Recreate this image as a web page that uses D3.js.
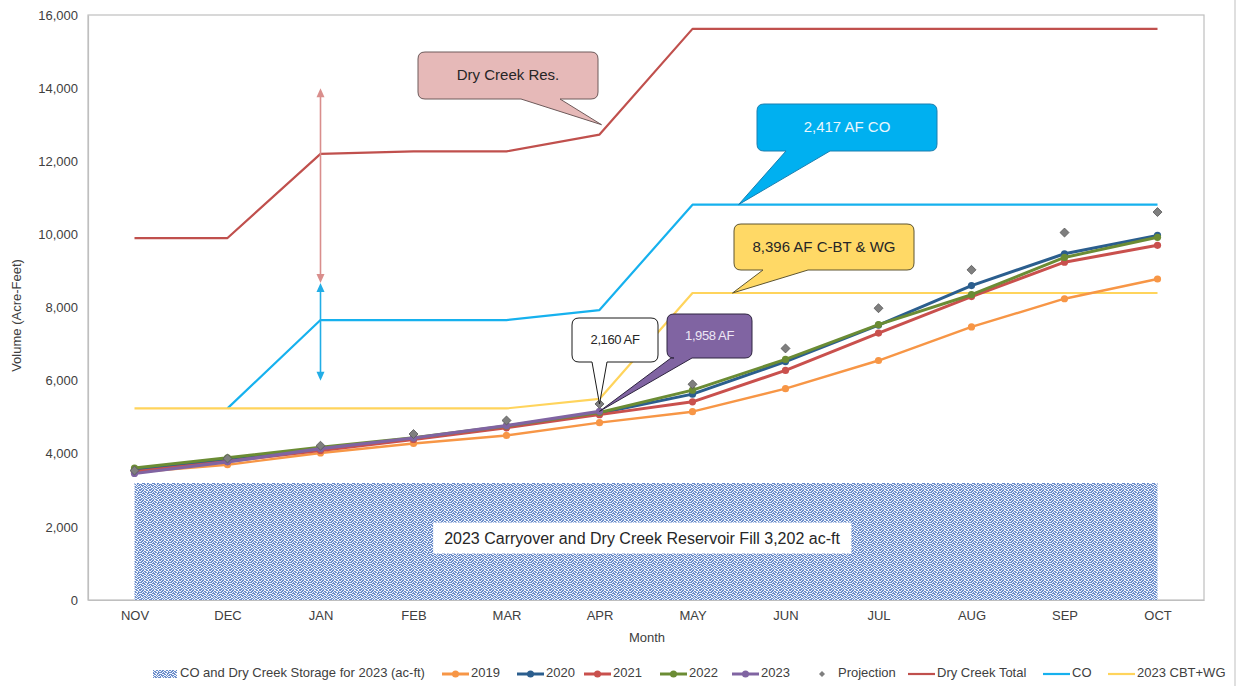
<!DOCTYPE html>
<html>
<head>
<meta charset="utf-8">
<script src="https://cdn.jsdelivr.net/npm/d3@7"></script>
<style>
  html, body { margin: 0; padding: 0; background: #fff; }
  svg { display: block; font-family: "Liberation Sans", Arial, sans-serif; }
</style>
</head>
<body>
<svg id="chart" width="1238" height="686"></svg>
<script>
// ---- data -------------------------------------------------------------
const months = ["NOV","DEC","JAN","FEB","MAR","APR","MAY","JUN","JUL","AUG","SEP","OCT"];
const yTicks = [0, 2000, 4000, 6000, 8000, 10000, 12000, 14000, 16000];

const storage2023 = [3202,3202,3202,3202,3202,3202,3202,3202,3202,3202,3202,3202];
const y2019 = [3490,3700,4020,4280,4500,4850,5150,5780,6550,7470,8240,8780];
const y2020 = [3560,3830,4130,4410,4730,5110,5630,6520,7520,8600,9470,9970];
const y2021 = [3510,3790,4090,4390,4710,5070,5420,6280,7300,8300,9240,9700];
const y2022 = [3610,3890,4180,4440,4760,5130,5740,6580,7530,8350,9370,9920];
const y2023 = [3460,3780,4140,4430,4770,5160,null,null,null,null,null,null];
const projection = [3540,3870,4220,4540,4910,5362,5900,6880,7980,9030,10050,10610];
const dryCreekTotal = [9900,9900,12200,12270,12270,12730,15620,15620,15620,15620,15620,15620];
const coTotal = [null,5240,7657,7657,7657,7930,10813,10813,10813,10813,10813,10813];
const cbtWg = [5240,5240,5240,5240,5240,5500,8396,8396,8396,8396,8396,8396];

// annotation values
const storageLabel = "2023 Carryover and Dry Creek Reservoir Fill 3,202 ac-ft";
const dryCreekArrow = [14000, 8670];   // JAN span, Dry Creek reservoir
const coArrow = [8670, 6000];          // JAN span, CO

// ---- layout -----------------------------------------------------------
const svg = d3.select("#chart");
const plot = { left: 88, right: 1204, top: 15, bottom: 600 };

const x = d3.scalePoint().domain(months).range([plot.left, plot.right]).padding(0.5);
const y = d3.scaleLinear().domain([0, 16000]).range([plot.bottom, plot.top]);

const C = {
  y2019: "#F79646", y2020: "#2B5E8E", y2021: "#C9504D", y2022: "#6B8C34",
  y2023: "#8064A2", proj: "#7F7F7F", dry: "#C0504D", co: "#16B1EE", cbt: "#FFD45C",
  text: "#404040", axis: "#BFBFBF"
};

// confetti fill used for the storage block
const defs = svg.append("defs");
const pat = defs.append("pattern").attr("id", "dots")
  .attr("patternUnits", "userSpaceOnUse").attr("width", 10).attr("height", 10);
pat.append("rect").attr("width", 10).attr("height", 10).attr("fill", "#F1F5FB");
const bitmap = [
  "1011001101",
  "0110110010",
  "1101011011",
  "0011100110",
  "1100110101",
  "0111001011",
  "1010110100",
  "1001011011",
  "0110100110",
  "1101011001"
];
bitmap.forEach((row, r) => row.split("").forEach((c, k) => {
  if (c === "1") pat.append("rect").attr("x", k).attr("y", r).attr("width", 1).attr("height", 1)
    .attr("fill", "#6B8DCB").attr("shape-rendering", "crispEdges");
}));

// outer frame line on the right
svg.append("line").attr("x1", 1235).attr("x2", 1235).attr("y1", 0).attr("y2", 686)
  .attr("stroke", "#D4D4D4").attr("stroke-width", 1.5);

// plot frame
svg.append("rect").attr("x", plot.left).attr("y", plot.top)
  .attr("width", plot.right - plot.left).attr("height", plot.bottom - plot.top)
  .attr("fill", "none").attr("stroke", C.axis).attr("stroke-width", 1.2);

// storage block
svg.append("path").datum(storage2023)
  .attr("d", d3.area().x((d, i) => x(months[i])).y0(y(0)).y1(d => y(d)))
  .attr("fill", "url(#dots)");

// storage label box
const sl = svg.append("g");
const slText = sl.append("text").attr("x", (x("MAR") + x("JUN")) / 2 - 4).attr("y", y(1660))
  .attr("text-anchor", "middle").attr("dominant-baseline", "middle")
  .attr("font-size", 16).attr("fill", "#262626").text(storageLabel);
const bb = slText.node().getBBox();
sl.insert("rect", "text").attr("x", bb.x - 11).attr("y", bb.y - 7)
  .attr("width", bb.width + 22).attr("height", bb.height + 14).attr("fill", "#fff");

// axes
const yAxis = svg.append("g").attr("transform", `translate(${plot.left},0)`)
  .call(d3.axisLeft(y).tickValues(yTicks).tickFormat(d3.format(",")).tickSize(0).tickPadding(10));
const xAxis = svg.append("g").attr("transform", `translate(0,${plot.bottom})`)
  .call(d3.axisBottom(x).tickSize(0).tickPadding(11));
[yAxis, xAxis].forEach(g => {
  g.select(".domain").attr("stroke", C.axis).attr("stroke-width", 1.2);
  g.selectAll("text").attr("font-size", 13).attr("fill", C.text)
    .attr("font-family", "'Liberation Sans', Arial, sans-serif");
});

svg.append("text").attr("transform", `translate(21,${(plot.top + plot.bottom) / 2 + 8}) rotate(-90)`)
  .attr("text-anchor", "middle").attr("font-size", 13).attr("fill", C.text).text("Volume (Acre-Feet)");
svg.append("text").attr("x", 647).attr("y", 642).attr("text-anchor", "middle")
  .attr("font-size", 13).attr("fill", C.text).text("Month");

// ---- series lines -----------------------------------------------------
const line = d3.line().defined(d => d != null).x((d, i) => x(months[i])).y(d => y(d));

function drawLine(values, color, width) {
  svg.append("path").datum(values).attr("d", line)
    .attr("fill", "none").attr("stroke", color).attr("stroke-width", width)
    .attr("stroke-linejoin", "round");
}
function drawDots(values, color, r) {
  svg.append("g").selectAll("circle")
    .data(values.map((v, i) => ({ v, m: months[i] })).filter(d => d.v != null))
    .join("circle").attr("cx", d => x(d.m)).attr("cy", d => y(d.v)).attr("r", r).attr("fill", color);
}

drawLine(dryCreekTotal, C.dry, 2.2);
drawLine(coTotal, C.co, 2.2);
drawLine(cbtWg, C.cbt, 2.2);

[[y2019, C.y2019, 2.4], [y2020, C.y2020, 3], [y2021, C.y2021, 3], [y2022, C.y2022, 3], [y2023, C.y2023, 3.2]]
  .forEach(([vals, col, w]) => { drawLine(vals, col, w); drawDots(vals, col, 3.6); });

// projection: square diamonds
const diamond = d3.symbol().type(d3.symbolSquare).size(40);
svg.append("g").selectAll("path")
  .data(projection.map((v, i) => ({ v, m: months[i] })))
  .join("path").attr("d", diamond)
  .attr("transform", d => `translate(${x(d.m)},${y(d.v)}) rotate(45)`)
  .attr("fill", C.proj).attr("stroke", "#5A5A5A").attr("stroke-width", 0.8);

// ---- double-headed span arrows ---------------------------------------
function spanArrow(vals, color) {
  const xp = x("JAN");
  const y0 = y(vals[0]), y1 = y(vals[1]);
  const g = svg.append("g").attr("fill", color).attr("stroke", color);
  g.append("line").attr("x1", xp).attr("x2", xp).attr("y1", y0 + 6).attr("y2", y1 - 6).attr("stroke-width", 1.6);
  const dir = y1 > y0 ? 1 : -1;
  g.append("path").attr("stroke", "none")
    .attr("d", `M${xp},${y0} L${xp - 4},${y0 + dir * 9} L${xp + 4},${y0 + dir * 9} Z`);
  g.append("path").attr("stroke", "none")
    .attr("d", `M${xp},${y1} L${xp - 4},${y1 - dir * 9} L${xp + 4},${y1 - dir * 9} Z`);
}
spanArrow(dryCreekArrow, "#D98E8C");
spanArrow(coArrow, "#22ADE6");

// ---- callouts ---------------------------------------------------------
function callout(o) {
  const { x0, y0, x1, y1, b0, b1, tip, r } = o;
  const d = `M${x0 + r},${y0} H${x1 - r} Q${x1},${y0} ${x1},${y0 + r} V${y1 - r} Q${x1},${y1} ${x1 - r},${y1}` +
    ` H${b1} L${tip[0]},${tip[1]} L${b0},${y1} H${x0 + r} Q${x0},${y1} ${x0},${y1 - r} V${y0 + r} Q${x0},${y0} ${x0 + r},${y0} Z`;
  svg.append("path").attr("d", d).attr("fill", o.fill).attr("stroke", o.stroke).attr("stroke-width", 1);
  svg.append("text").attr("x", (x0 + x1) / 2).attr("y", (y0 + y1) / 2 + 1)
    .attr("text-anchor", "middle").attr("dominant-baseline", "middle")
    .attr("font-size", o.size).attr("fill", o.color).attr("letter-spacing", o.ls || 0).text(o.text);
}

const midMayJun = x("MAY") + 40;
callout({ text: "Dry Creek Res.", x0: 418, y0: 52, x1: 598, y1: 99, b0: 521, b1: 560,
  tip: [x("APR") + 2, y(13000)], r: 7, fill: "#E6B9B8", stroke: "#6E5A5A", color: "#262626", size: 15 });
callout({ text: "2,417 AF CO", x0: 757, y0: 104, x1: 937, y1: 151, b0: 786, b1: 830,
  tip: [midMayJun + 6, y(coTotal[6])], r: 7, fill: "#00B0F0", stroke: "#1A7FB0", color: "#E8F7FD", size: 15 });
callout({ text: "8,396 AF C-BT & WG", x0: 734, y0: 224, x1: 914, y1: 270, b0: 763, b1: 808,
  tip: [midMayJun, y(cbtWg[6])], r: 7, fill: "#FFD966", stroke: "#5E5530", color: "#262626", size: 15 });
callout({ text: "2,160 AF", x0: 572, y0: 318, x1: 658, y1: 362, b0: 592, b1: 607,
  tip: [x("APR"), y(projection[5])], r: 7, fill: "#FFFFFF", stroke: "#1A1A1A", color: "#262626", size: 13, ls: -0.4 });
callout({ text: "1,958 AF", x0: 667, y0: 314, x1: 752, y1: 358, b0: 671, b1: 692,
  tip: [x("APR"), y(y2023[5])], r: 7, fill: "#8064A2", stroke: "#2E2440", color: "#EDE7F5", size: 13, ls: -0.4 });

// ---- legend -----------------------------------------------------------
const legendY = 674;
const legend = [
  { type: "pattern", x: 153, label: "CO and Dry Creek Storage for 2023 (ac-ft)" },
  { type: "marker", x: 442, color: C.y2019, label: "2019" },
  { type: "marker", x: 517, color: C.y2020, label: "2020" },
  { type: "marker", x: 584, color: C.y2021, label: "2021" },
  { type: "marker", x: 660, color: C.y2022, label: "2022" },
  { type: "marker", x: 732, color: C.y2023, label: "2023" },
  { type: "diamond", x: 816, color: C.proj, label: "Projection" },
  { type: "line", x: 908, color: C.dry, label: "Dry Creek Total" },
  { type: "line", x: 1043, color: C.co, label: "CO" },
  { type: "line", x: 1108, color: C.cbt, label: "2023 CBT+WG" }
];
const lg = svg.append("g");
legend.forEach(it => {
  let tx;
  if (it.type === "pattern") {
    lg.append("rect").attr("x", it.x).attr("y", legendY - 4).attr("width", 24).attr("height", 8).attr("fill", "url(#dots)");
    tx = it.x + 27;
  } else if (it.type === "diamond") {
    lg.append("path").attr("d", d3.symbol().type(d3.symbolSquare).size(18))
      .attr("transform", `translate(${it.x + 6},${legendY}) rotate(45)`).attr("fill", it.color);
    tx = it.x + 22;
  } else {
    lg.append("line").attr("x1", it.x).attr("x2", it.x + 27).attr("y1", legendY).attr("y2", legendY)
      .attr("stroke", it.color).attr("stroke-width", it.type === "marker" ? 3 : 2.2);
    if (it.type === "marker") lg.append("circle").attr("cx", it.x + 13.5).attr("cy", legendY).attr("r", 3.5).attr("fill", it.color);
    tx = it.x + 29;
  }
  lg.append("text").attr("x", tx).attr("y", legendY).attr("dominant-baseline", "middle")
    .attr("font-size", 13).attr("fill", C.text).text(it.label);
});
</script>
</body>
</html>
